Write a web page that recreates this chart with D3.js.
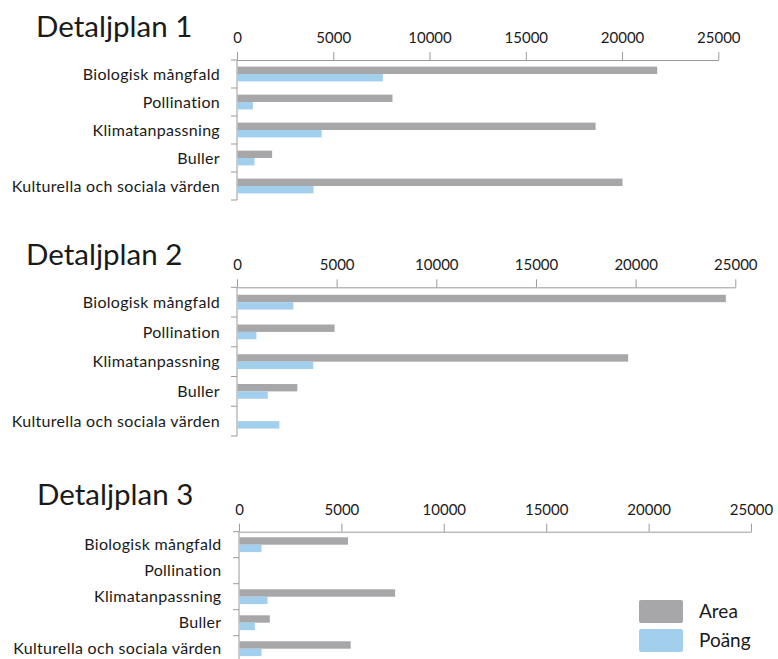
<!DOCTYPE html>
<html>
<head>
<meta charset="utf-8">
<script src="https://cdn.jsdelivr.net/npm/d3@7"></script>
<style>
  html, body { margin: 0; padding: 0; background: #fff; }
  svg { display: block; }
  text { font-family: Lato, "Open Sans", sans-serif; fill: #1a1a1a; }
</style>
</head>
<body>
<script>
// ---- data ----
const categories = ["Biologisk mångfald", "Pollination", "Klimatanpassning", "Buller", "Kulturella och sociala värden"];
const seriesNames = ["Area", "Poäng"];
const titles = ["Detaljplan 1", "Detaljplan 2", "Detaljplan 3"];
const area1  = [21800, 8050, 18600, 1800, 20000];
const poang1 = [7550, 800, 4370, 880, 3950];
const area2  = [24500, 4870, 19600, 3000, 0];
const poang2 = [2800, 950, 3800, 1520, 2100];
const area3  = [5300, 0, 7600, 1480, 5430];
const poang3 = [1070, 0, 1370, 750, 1070];
const tickValues = [0, 5000, 10000, 15000, 20000, 25000];

// ---- layout / style ----
const W = 778, H = 659;
const colors = { "Area": "#a7a7aa", "Poäng": "#a3cfee" };
const axisColor = "#9a9a9a";
const panels = [
  { title: titles[0], area: area1, poang: poang1, x0: 237, x1: 718.3, top: 60,    bottom: 200,   titleX: 36, titleY: 37,  labelX: 220 },
  { title: titles[1], area: area2, poang: poang2, x0: 237, x1: 735.3, top: 287.3, bottom: 436,   titleX: 26, titleY: 265, labelX: 220 },
  { title: titles[2], area: area3, poang: poang3, x0: 239, x1: 751,   top: 531.7, bottom: 661.7, titleX: 37, titleY: 505, labelX: 221.5 }
];
const barH = 7.4;

const svg = d3.select("body").append("svg").attr("width", W).attr("height", H);

panels.forEach(p => {
  const g = svg.append("g");
  const x = d3.scaleLinear().domain([0, 25000]).range([p.x0, p.x1]);
  const y = d3.scaleBand().domain(categories).range([p.top, p.bottom]).padding(0);
  const bw = y.bandwidth();
  const ys = d3.scaleBand().domain(seriesNames).range([bw / 2 - barH, bw / 2 + barH]).padding(0);

  // title
  g.append("text").attr("x", p.titleX).attr("y", p.titleY)
    .attr("font-size", 29.5).text(p.title);

  // x axis (top)
  const xa = g.append("g").attr("transform", `translate(0,${p.top})`)
    .call(d3.axisTop(x).tickValues(tickValues).tickSize(8).tickSizeOuter(0).tickPadding(9).tickFormat(d3.format("d")));
  xa.select(".domain").attr("stroke", axisColor);
  xa.selectAll(".tick line").attr("stroke", axisColor);
  xa.selectAll(".tick text").attr("font-size", 15).attr("fill", "#1a1a1a")
    .attr("font-family", "Lato, 'Open Sans', sans-serif");

  // y axis: line and ticks at band boundaries
  const yLine = g.append("g");
  yLine.append("line").attr("x1", p.x0).attr("x2", p.x0).attr("y1", p.top).attr("y2", p.bottom)
    .attr("stroke", axisColor);
  const bounds = categories.map(c => y(c)).concat([p.bottom]);
  yLine.selectAll("line.t").data(bounds).join("line").attr("class", "t")
    .attr("x1", p.x0 - 6).attr("x2", p.x0).attr("y1", d => d).attr("y2", d => d)
    .attr("stroke", axisColor);

  // category labels
  g.selectAll("text.cat").data(categories).join("text").attr("class", "cat")
    .attr("x", p.labelX).attr("y", d => y(d) + bw / 2)
    .attr("dy", "0.35em").attr("text-anchor", "end").attr("font-size", 16)
    .attr("letter-spacing", 0.3)
    .text(d => d);

  // bars
  const rows = categories.map((c, i) => ({ c, Area: p.area[i], "Poäng": p.poang[i] }));
  seriesNames.forEach(s => {
    g.selectAll(null).data(rows).join("rect")
      .attr("x", x(0) + 0.5)
      .attr("y", d => y(d.c) + ys(s))
      .attr("width", d => Math.max(0, x(d[s]) - x(0)))
      .attr("height", ys.bandwidth())
      .attr("fill", colors[s]);
  });
});

// legend
const legend = svg.append("g");
const lg = legend.selectAll("g").data(seriesNames).join("g")
  .attr("transform", (d, i) => `translate(639,${600 + i * 29})`);
lg.append("rect").attr("width", 44).attr("height", 23).attr("rx", 2).attr("fill", d => colors[d]);
lg.append("text").attr("x", 60).attr("y", 18).attr("font-size", 19).text(d => d);
</script>
</body>
</html>
